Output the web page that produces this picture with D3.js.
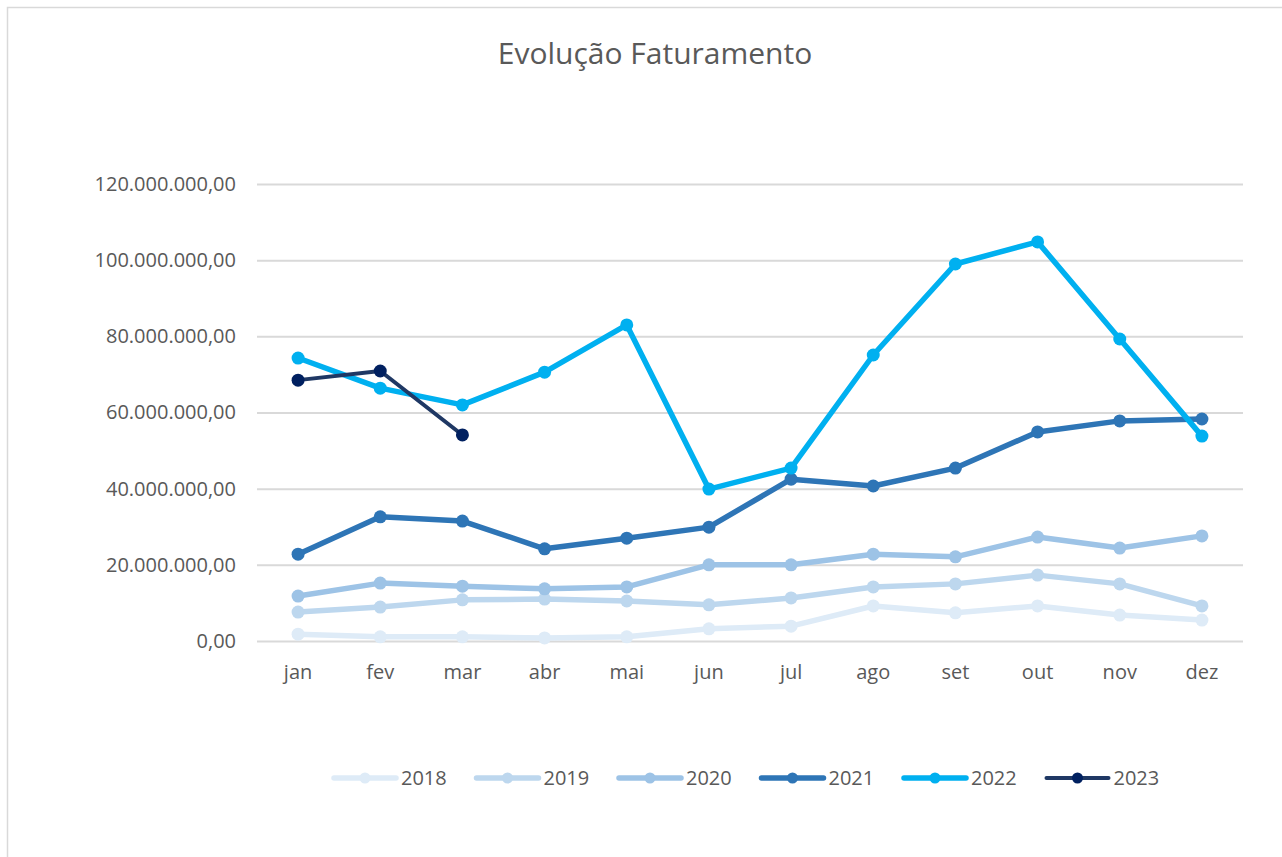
<!DOCTYPE html>
<html>
<head>
<meta charset="utf-8">
<script src="https://cdn.jsdelivr.net/npm/d3@7"></script>
<style>
  html, body { margin: 0; padding: 0; background: #fff; }
  svg { display: block; font-family: "Open Sans", "Noto Sans", sans-serif; }
</style>
</head>
<body>
<svg id="chart" width="1282" height="857"></svg>
<script>
// chart data
const months = ["jan", "fev", "mar", "abr", "mai", "jun", "jul", "ago", "set", "out", "nov", "dez"];
const years = ["2018", "2019", "2020", "2021", "2022", "2023"];
const colors = ["#deebf7", "#bdd7ee", "#9dc3e6", "#2e75b6", "#00b0f0", "#1f3864"];

const v2018 = [1.8, 1.1, 1.1, 0.8, 1.1, 3.2, 3.9, 9.2, 7.4, 9.2, 6.8, 5.5];
const v2019 = [7.6, 8.9, 10.8, 11.0, 10.5, 9.5, 11.3, 14.2, 15.0, 17.3, 15.0, 9.2];
const v2020 = [11.8, 15.2, 14.4, 13.7, 14.2, 20.0, 20.0, 22.8, 22.1, 27.3, 24.4, 27.6];
const v2021 = [22.8, 32.6, 31.5, 24.2, 27.0, 29.9, 42.5, 40.7, 45.4, 54.9, 57.8, 58.3];
const v2022 = [74.3, 66.4, 62.0, 70.6, 83.0, 39.9, 45.4, 75.1, 99.0, 104.8, 79.3, 53.8];
const v2023 = [68.5, 70.9, 54.1];

const yTicks = [0, 20, 40, 60, 80, 100, 120];

const seriesValues = [v2018, v2019, v2020, v2021, v2022, v2023];
const series = years.map((y, i) => ({
  year: y,
  color: colors[i],
  points: seriesValues[i].map((v, j) => ({ month: months[j], value: v * 1e6 }))
}));

const svg = d3.select("#chart");
const textColor = "#595959";
const gridColor = "#d9d9d9";

// outer chart border
svg.append("rect")
  .attr("x", 7.5).attr("y", 7.5)
  .attr("width", 1300).attr("height", 900)
  .attr("fill", "none")
  .attr("stroke", gridColor)
  .attr("stroke-width", 1.5);

svg.append("text")
  .attr("x", 655).attr("y", 64)
  .attr("text-anchor", "middle")
  .attr("font-size", 30)
  .attr("fill", textColor)
  .text("Evolução Faturamento");

const x = d3.scaleBand().domain(months).range([257, 1243]);
const y = d3.scaleLinear().domain([0, 120e6]).range([641, 184]);
const cx = m => x(m) + x.bandwidth() / 2;

const br = d3.formatLocale({ decimal: ",", thousands: ".", grouping: [3], currency: ["R$", ""] });
const fmt = br.format(",.2f");

// y axis (gridlines + labels)
const yAxis = svg.append("g")
  .attr("transform", "translate(257,0)")
  .call(d3.axisLeft(y)
    .tickValues(yTicks.map(t => t * 1e6))
    .tickSize(-986)
    .tickPadding(21)
    .tickFormat(fmt));
yAxis.select(".domain").remove();
yAxis.selectAll(".tick line").attr("stroke", gridColor).attr("stroke-width", 2);
yAxis.selectAll(".tick text")
  .attr("fill", textColor)
  .attr("font-size", 20)
  .attr("font-family", "Open Sans, sans-serif");

// x axis labels
const xAxis = svg.append("g")
  .attr("transform", "translate(0,641)")
  .call(d3.axisBottom(x).tickSize(0).tickPadding(24));
xAxis.select(".domain").remove();
xAxis.selectAll(".tick text")
  .attr("fill", textColor)
  .attr("font-size", 20)
  .attr("font-family", "Open Sans, sans-serif");

// lines
const line = d3.line().x(d => cx(d.month)).y(d => y(d.value));

series.forEach(s => {
  const g = svg.append("g");
  g.append("path")
    .datum(s.points)
    .attr("fill", "none")
    .attr("stroke", s.color)
    .attr("stroke-width", s.year === "2023" ? 4 : 5.5)
    .attr("stroke-linejoin", "round")
    .attr("d", line);
  g.selectAll("circle")
    .data(s.points)
    .enter()
    .append("circle")
    .attr("cx", d => cx(d.month))
    .attr("cy", d => y(d.value))
    .attr("r", 6.5)
    .attr("fill", s.year === "2023" ? "#002060" : s.color);
});

// legend
const legend = svg.append("g").attr("transform", "translate(334,778)");
series.forEach((s, i) => {
  const item = legend.append("g").attr("transform", `translate(${i * 142.5},0)`);
  item.append("line")
    .attr("x1", 0).attr("x2", 62)
    .attr("stroke", s.color)
    .attr("stroke-width", s.year === "2023" ? 4 : 5.5)
    .attr("stroke-linecap", "round");
  item.append("circle")
    .attr("cx", 31).attr("cy", 0).attr("r", 5.5)
    .attr("fill", s.year === "2023" ? "#002060" : s.color);
  item.append("text")
    .attr("x", 67).attr("y", 0)
    .attr("dy", "0.35em")
    .attr("font-size", 20)
    .attr("fill", textColor)
    .text(s.year);
});
</script>
</body>
</html>
